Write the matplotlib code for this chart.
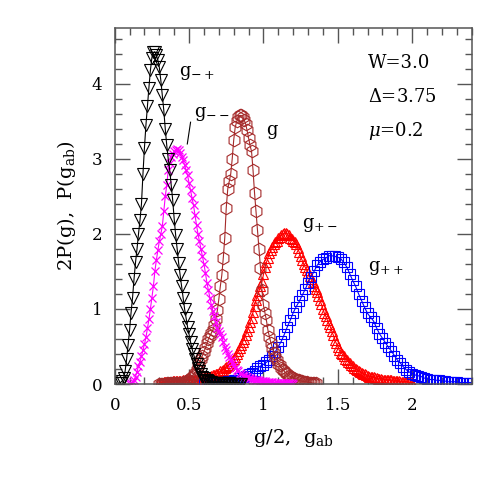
import numpy as np
import matplotlib
matplotlib.use("Agg")
import matplotlib.pyplot as plt

plt.rcParams['font.family'] = ['DejaVu Serif']
plt.rcParams['mathtext.fontset'] = 'dejavuserif'

# g_{-+} : black triangles, bins of 0.01
x_mp = np.round(np.arange(0.03, 0.855, 0.01), 2)
y_mp = [0.01, 0.02, 0.04, 0.08, 0.17, 0.33, 0.52, 0.72, 0.95, 1.15,
        1.40, 1.62, 1.80, 2.00, 2.18, 2.40, 2.80, 3.15, 3.45, 3.70,
        3.95, 4.18, 4.35, 4.42, 4.43, 4.38, 4.32, 4.22, 4.05, 3.85,
        3.65, 3.40, 3.18, 3.00, 2.85, 2.65, 2.45, 2.20, 1.98, 1.80,
        1.61, 1.45, 1.30, 1.15, 1.00, 0.88, 0.76, 0.66, 0.56, 0.47,
        0.40, 0.33, 0.27, 0.22, 0.18, 0.14, 0.10, 0.08, 0.06, 0.05,
        0.04, 0.03, 0.03, 0.02, 0.02, 0.02, 0.01, 0.01, 0.01, 0.01,
        0.01, 0.01, 0.01, 0.01, 0.01, 0.005, 0.005, 0.005, 0.005, 0.005,
        0.005, 0.005, 0.005]

# g_{--} : magenta crosses
x_mm = np.round(np.arange(0.10, 1.205, 0.01), 2)
y_mm = [0.00, 0.01, 0.03, 0.06, 0.10, 0.16, 0.24, 0.30, 0.37, 0.45,
        0.53, 0.62, 0.74, 0.86, 1.00, 1.15, 1.30, 1.50, 1.65, 1.78,
        1.90, 2.00, 2.10, 2.30, 2.50, 2.65, 2.85, 2.95, 3.02, 3.06,
        3.10, 3.12, 3.13, 3.12, 3.08, 3.03, 2.98, 2.92, 2.85, 2.78,
        2.68, 2.58, 2.48, 2.38, 2.25, 2.12, 2.00, 1.90, 1.80, 1.70,
        1.60, 1.48, 1.35, 1.25, 1.15, 1.05, 0.97, 0.90, 0.82, 0.75,
        0.70, 0.66, 0.62, 0.56, 0.50, 0.45, 0.40, 0.36, 0.32, 0.28,
        0.25, 0.22, 0.19, 0.17, 0.15, 0.13, 0.12, 0.11, 0.10, 0.09,
        0.08, 0.08, 0.07, 0.06, 0.06, 0.05, 0.05, 0.05, 0.04, 0.04,
        0.04, 0.04, 0.03, 0.03, 0.03, 0.03, 0.03, 0.02, 0.02, 0.02,
        0.02, 0.02, 0.01, 0.01, 0.01, 0.01, 0.01, 0.01, 0.01, 0.01,
        0.00]

# g (plotted as g/2) : brown hexagons
x_g = np.round(np.arange(0.30, 1.355, 0.01), 2)
y_g = [0.005, 0.005, 0.005, 0.005, 0.005, 0.01, 0.01, 0.01, 0.01, 0.01,
       0.01, 0.01, 0.01, 0.02, 0.02, 0.02, 0.03, 0.03, 0.04, 0.05,
       0.06, 0.08, 0.10, 0.12, 0.15, 0.19, 0.24, 0.28, 0.33, 0.38,
       0.43, 0.48, 0.54, 0.60, 0.64, 0.68, 0.72, 0.78, 0.86, 0.98,
       1.13, 1.30, 1.45, 1.68, 1.95, 2.35, 2.60, 2.70, 2.80, 3.00,
       3.25, 3.42, 3.50, 3.56, 3.58, 3.58, 3.56, 3.52, 3.47, 3.38,
       3.28, 3.18, 3.10, 2.85, 2.55, 2.30, 2.05, 1.80, 1.55, 1.25,
       1.05, 0.95, 0.85, 0.72, 0.63, 0.55, 0.48, 0.42, 0.36, 0.32,
       0.27, 0.25, 0.22, 0.19, 0.17, 0.15, 0.13, 0.11, 0.10, 0.09,
       0.08, 0.07, 0.06, 0.05, 0.05, 0.04, 0.04, 0.03, 0.03, 0.03,
       0.02, 0.02, 0.02, 0.01, 0.01, 0.01]

# g_{+-} : red triangles
x_pm = np.round(np.arange(0.30, 2.005, 0.01), 2)
y_pm = [0.02, 0.02, 0.02, 0.03, 0.03, 0.03, 0.03, 0.03, 0.03, 0.04,
        0.04, 0.04, 0.04, 0.04, 0.04, 0.04, 0.05, 0.05, 0.05, 0.05,
        0.05, 0.05, 0.06, 0.06, 0.06, 0.06, 0.07, 0.07, 0.07, 0.08,
        0.08, 0.09, 0.09, 0.10, 0.10, 0.11, 0.12, 0.12, 0.13, 0.14,
        0.15, 0.17, 0.18, 0.19, 0.21, 0.23, 0.24, 0.26, 0.28, 0.31,
        0.33, 0.36, 0.40, 0.44, 0.48, 0.52, 0.56, 0.60, 0.65, 0.70,
        0.76, 0.82, 0.88, 0.96, 1.04, 1.12, 1.18, 1.24, 1.30, 1.36,
        1.46, 1.56, 1.62, 1.68, 1.74, 1.78, 1.82, 1.86, 1.89, 1.91,
        1.94, 1.96, 1.98, 2.00, 2.01, 2.01, 2.00, 1.98, 1.95, 1.93,
        1.91, 1.89, 1.86, 1.81, 1.76, 1.70, 1.65, 1.60, 1.56, 1.52,
        1.48, 1.44, 1.40, 1.36, 1.31, 1.27, 1.22, 1.17, 1.12, 1.06,
        1.00, 0.94, 0.90, 0.85, 0.80, 0.76, 0.70, 0.65, 0.59, 0.54,
        0.50, 0.45, 0.42, 0.40, 0.37, 0.34, 0.32, 0.30, 0.28, 0.26,
        0.24, 0.22, 0.20, 0.19, 0.17, 0.16, 0.15, 0.14, 0.13, 0.12,
        0.11, 0.10, 0.10, 0.09, 0.09, 0.08, 0.08, 0.07, 0.07, 0.07,
        0.06, 0.06, 0.06, 0.05, 0.05, 0.05, 0.05, 0.04, 0.04, 0.04,
        0.04, 0.04, 0.03, 0.03, 0.03, 0.03, 0.03, 0.03, 0.02, 0.02,
        0.02]

# g_{++} : blue squares, bins of 0.02
x_pp = np.round(np.arange(0.60, 2.405, 0.02), 2)
y_pp = [0.01, 0.01, 0.02, 0.02, 0.02, 0.02, 0.03, 0.03, 0.04, 0.04,
        0.05, 0.06, 0.08, 0.09, 0.11, 0.13, 0.15, 0.18, 0.21, 0.24,
        0.26, 0.29, 0.32, 0.38, 0.43, 0.50, 0.57, 0.66, 0.76, 0.85,
        0.95, 1.03, 1.10, 1.18, 1.26, 1.35, 1.43, 1.50, 1.58, 1.63,
        1.66, 1.68, 1.71, 1.71, 1.70, 1.69, 1.67, 1.62, 1.56, 1.47,
        1.38, 1.30, 1.20, 1.11, 1.02, 0.94, 0.89, 0.84, 0.75, 0.67,
        0.61, 0.55, 0.49, 0.44, 0.38, 0.32, 0.28, 0.23, 0.19, 0.16,
        0.14, 0.12, 0.11, 0.10, 0.08, 0.07, 0.06, 0.06, 0.05, 0.05,
        0.04, 0.04, 0.03, 0.03, 0.03, 0.03, 0.02, 0.02, 0.02, 0.02,
        0.02]

fig = plt.figure(figsize=(4.98, 4.98), dpi=100)
ax = fig.add_axes([0.2303, 0.2289, 0.7169, 0.7155])

lw = 0.8
ax.plot(x_pm, y_pm, color='red', lw=lw, marker='^', ms=7, mfc='none', mec='red', mew=0.8)
ax.plot(x_pp, y_pp, color='blue', lw=lw, marker='s', ms=6.5, mfc='none', mec='blue', mew=0.8)
ax.plot(x_g, y_g, color='#a52a2a', lw=lw, marker='h', ms=9, mfc='none', mec='#a52a2a', mew=0.8)
ax.plot(x_mm, y_mm, color='magenta', lw=lw, marker='x', ms=5.5, mec='magenta', mew=0.9)
ax.plot(x_mp, y_mp, color='black', lw=lw, marker='v', ms=8, mfc='none', mec='black', mew=0.8)

ax.set_xlim(0, 2.4)
ax.set_ylim(0, 4.75)
ax.set_xticks([0, 0.5, 1, 1.5, 2])
ax.set_xticklabels(['0', '0.5', '1', '1.5', '2'])
ax.set_xticks(np.arange(0, 2.41, 0.1), minor=True)
ax.set_yticks([0, 1, 2, 3, 4])
ax.set_yticks(np.arange(0, 4.75, 0.2), minor=True)
ax.tick_params(which='both', direction='in', top=True, right=True, color='#555555', width=1.0)
ax.tick_params(which='major', length=11, labelsize=12)
ax.tick_params(which='minor', length=5)
ax.tick_params(axis='x', which='major', pad=9)
ax.tick_params(axis='y', which='major', pad=9)
for s in ax.spines.values():
    s.set_color('#555555')
    s.set_linewidth(1.1)

ax.set_xlabel(r'g/2,  g$_{\rm ab}$', fontsize=14, labelpad=10)
ax.set_ylabel(r'2P(g),  P(g$_{\rm ab}$)', fontsize=14, labelpad=10)

ts = 13
ax.text(0.43, 4.15, r'g$_{-+}$', fontsize=ts, va='center')
ax.text(0.535, 3.6, r'g$_{--}$', fontsize=ts, va='center')
ax.plot([0.488, 0.51], [3.2, 3.49], color='black', lw=0.8)
ax.text(1.02, 3.38, 'g', fontsize=ts, va='center')
ax.text(1.26, 2.12, r'g$_{+-}$', fontsize=ts, va='center')
ax.text(1.70, 1.55, r'g$_{++}$', fontsize=ts, va='center')

ax.text(1.70, 4.28, 'W=3.0', fontsize=ts, va='center')
ax.text(1.70, 3.82, r'$\Delta$=3.75', fontsize=ts, va='center')
ax.text(1.70, 3.37, r'$\mu$=0.2', fontsize=ts, va='center')

fig.savefig('out.png', dpi=100)
